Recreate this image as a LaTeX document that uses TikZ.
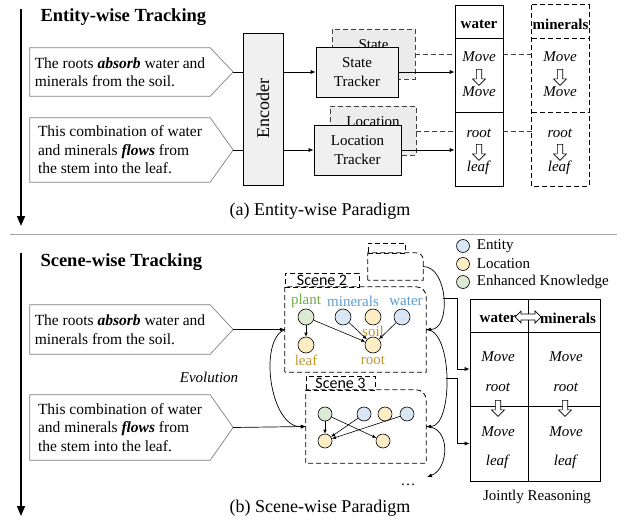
\documentclass[tikz,border=0pt]{standalone}
\usepackage{fontspec}
\setmainfont{Liberation Serif}
\newfontfamily\scenefont{Carlito}
\usetikzlibrary{arrows.meta, shapes.arrows, positioning, calc}

\definecolor{entblue}{HTML}{DAE6F3}
\definecolor{locyellow}{HTML}{FDEDC4}
\definecolor{knowgreen}{HTML}{DCEAD3}
\definecolor{txtgreen}{HTML}{70AD47}
\definecolor{txtblue}{HTML}{5B9BD5}
\definecolor{txtgold}{HTML}{C09A2E}

\begin{document}
\begin{tikzpicture}[x=1pt, y=-1pt,
    every node/.style={font=\fontsize{15}{18.5}\selectfont},
    arr/.style={-{Latex[length=5pt, width=4pt]}, line width=0.7pt},
    timeline/.style={-{Triangle[length=10pt, width=8pt]}, line width=1.5pt},
    dashes/.style={dash pattern=on 5pt off 3pt, line width=0.8pt},
    sentbox/.style={rectangle, align=left, minimum width=180, inner sep=0pt, font=\fontsize{15.5}{18.5}\selectfont},
    sentline/.style={draw=black!50, line width=0.7pt},
    procbox/.style={rectangle, draw, fill=gray!12, align=center, line width=0.7pt},
    ghostbox/.style={rectangle, draw=black!75, dashes, fill=gray!15, align=center},
    cell/.style={rectangle, draw, line width=0.7pt},
    blockdown/.style={single arrow, draw, fill=white, rotate=-90, minimum height=16, minimum width=13, single arrow head extend=3.5pt, inner sep=2.2pt, line width=0.6pt},
    scenetag/.style={rectangle, draw, dashes, inner sep=0pt, font=\scenefont\fontsize{16}{17}\selectfont},
    ent/.style={circle, draw, fill=entblue, minimum size=16, inner sep=0pt, line width=0.6pt},
    loc/.style={ent, fill=locyellow},
    know/.style={ent, fill=knowgreen},
    sarr/.style={-{Latex[length=4pt, width=3.5pt]}, line width=0.6pt},
]
\useasboundingbox (0,0) rectangle (628,521);

% (a) entity-wise
\coordinate (topstart) at (21,9);
\coordinate (topend) at (21,226);
\draw[timeline] (topstart) -- (topend);
\node[anchor=west, font=\fontsize{18.5}{20}\selectfont\bfseries] (title1) at (37,17) {Entity-wise Tracking};

\node[sentbox, minimum height=48] (t1) at (120,72) {The roots \textbf{\textit{absorb}} water and\\minerals from the soil.};
\draw[sentline] (t1.north west) -- (t1.north east) -- ($(t1.east)+(23,0)$) coordinate (t1tip) -- (t1.south east) -- (t1.south west) -- cycle;
\node[sentbox, minimum height=64] (t2) at (120,150) {This combination of water\\and minerals \textbf{\textit{flows}} from\\the stem into the leaf.};
\draw[sentline] (t2.north west) -- (t2.north east) -- ($(t2.east)+(23,0)$) coordinate (t2tip) -- (t2.south east) -- (t2.south west) -- cycle;

\node[procbox, minimum width=40, minimum height=152] (enc) at (263,109) {};
\node[rotate=90, font=\fontsize{18}{20}\selectfont] (enctext) at (enc.center) {Encoder};

\node[ghostbox, minimum width=83, minimum height=50] (stb) at (373.5,54) {State\\Tracker};
\node[procbox, minimum width=82, minimum height=50] (st) at (357,72) {State\\Tracker};
\node[ghostbox, minimum width=86, minimum height=49] (ltb) at (373,131) {Location\\Tracker};
\node[procbox, minimum width=87, minimum height=50] (lt) at (357.5,150) {Location\\Tracker};

% water column
\node[cell, minimum width=48, minimum height=33] (wh) at (479,21.5) {};
\node[cell, minimum width=48, minimum height=74] (wr1) at (479,75) {};
\node[cell, minimum width=48, minimum height=74] (wr2) at (479,149) {};
\node (whtxt) at (479,24) {\textbf{water}};
\node (wm1) at (479,57) {\textit{Move}};
\node[blockdown] (wa1) at (479,76) {};
\node (wm2) at (479,92) {\textit{Move}};
\node (wl1) at (479,133) {\textit{root}};
\node[blockdown] (wa2) at (479,151) {};
\node (wl2) at (479,168) {\textit{leaf}};

% minerals column
\node[minimum width=57, minimum height=33] (mh) at (560.5,21.5) {};
\node[minimum width=57, minimum height=74] (mr1) at (560.5,75) {};
\node[minimum width=57, minimum height=74] (mr2) at (560.5,149) {};
\draw[dashes] (mh.north west) rectangle (mr2.south east);
\draw[dashes] (mh.south west) -- (mh.south east);
\draw[dashes] (mr1.south west) -- (mr1.south east);
\node (mhtxt) at (560.5,24) {\textbf{minerals}};
\node (mm1) at (560,57) {\textit{Move}};
\node[blockdown] (ma1) at (560,76) {};
\node (mm2) at (560,92) {\textit{Move}};
\node (ml1) at (560,133) {\textit{root}};
\node[blockdown] (ma2) at (560,151) {};
\node (ml2) at (560,168) {\textit{leaf}};

\draw[line width=0.7pt] (t1tip) -- (t1tip -| enc.west);
\draw[line width=0.7pt] (t2tip) -- (t2tip -| enc.west);
\draw[arr] (st.west -| enc.east) -- (st.west);
\draw[arr] (lt.west -| enc.east) -- (lt.west);
\draw[arr] (st.east) -- (st.east -| wr1.west);
\draw[arr] (lt.east) -- (lt.east -| wr2.west);
\draw[dashes, draw=black!75] (stb.east) -- (stb.east -| wr1.west);
\draw[dashes, draw=black!75] (ltb.east) -- (ltb.east -| wr2.west);
\draw[dashes, draw=black!75] (wr1.east |- stb.east) -- (mr1.west |- stb.east);
\draw[dashes, draw=black!75] (wr2.east |- ltb.east) -- (mr2.west |- ltb.east);

\node[font=\fontsize{18}{20}\selectfont] (capa) at (320,211) {(a) Entity-wise Paradigm};

\coordinate (sepl) at (10,234);
\coordinate (sepr) at (617,234);
\draw[black!35, line width=1pt] (sepl) -- (sepr);

% (b) scene-wise
\coordinate (botstart) at (21,253);
\coordinate (botend) at (21,516);
\draw[timeline] (botstart) -- (botend);
\node[anchor=west, font=\fontsize{18.5}{20}\selectfont\bfseries] (title2) at (37,262) {Scene-wise Tracking};

\node[sentbox, minimum height=49] (tb1) at (120,329.5) {The roots \textbf{\textit{absorb}} water and\\minerals from the soil.};
\draw[sentline] (tb1.north west) -- (tb1.north east) -- ($(tb1.east)+(23,0)$) coordinate (tb1tip) -- (tb1.south east) -- (tb1.south west) -- cycle;
\node[sentbox, minimum height=65] (tb2) at (120,427.5) {This combination of water\\and minerals \textbf{\textit{flows}} from\\the stem into the leaf.};
\draw[sentline] (tb2.north west) -- (tb2.north east) -- ($(tb2.east)+(23,0)$) coordinate (tb2tip) -- (tb2.south east) -- (tb2.south west) -- cycle;
\node[font=\fontsize{15}{18}\selectfont\itshape] (evo) at (209,377) {Evolution};

% scenes
\node[scenetag, minimum width=37, minimum height=10] (sc1l) at (386.5,248) {};
\node[minimum width=55, minimum height=27] (sc1) at (395.5,266.5) {};
\draw[dashes] (sc1.south west) -- (sc1.north west) -- ([xshift=-7pt]sc1.north east) arc[start angle=90, end angle=0, radius=7pt] -- (sc1.south east) -- cycle;

\node[scenetag, minimum width=74, minimum height=14] (sc2l) at (322,280) {Scene 2};
\node[minimum width=141, minimum height=85] (sc2) at (355.5,329.5) {};
\draw[dashes] (sc2.south west) -- (sc2.north west) -- ([xshift=-10pt]sc2.north east) arc[start angle=90, end angle=0, radius=10pt] -- (sc2.south east) -- cycle;

\node[scenetag, minimum width=69, minimum height=14] (sc3l) at (340.5,383) {Scene 3};
\node[minimum width=120, minimum height=73] (sc3) at (366,426.5) {};
\draw[dashes] (sc3.south west) -- (sc3.north west) -- ([xshift=-10pt]sc3.north east) arc[start angle=90, end angle=0, radius=10pt] -- (sc3.south east) -- cycle;

% scene 2 graph
\node[know] (plant) at (306,317) {};
\node[ent] (min2) at (343,317) {};
\node[loc] (soil) at (373,317) {};
\node[ent] (wat2) at (402,317) {};
\node[loc] (leaf) at (306,345) {};
\node[loc] (root) at (373,345) {};
\node[text=txtgreen] (plantlbl) at (306,301) {plant};
\node[text=txtblue] (minlbl) at (353,301) {minerals};
\node[text=txtblue] (watlbl) at (406,301) {water};
\node[text=txtgold] (soillbl) at (373,331) {soil};
\node[text=txtgold] (leaflbl) at (306,360) {leaf};
\node[text=txtgold] (rootlbl) at (373,360) {root};
\draw[sarr] (plant) -- (leaf);
\draw[sarr] (plant) -- (root);
\draw[sarr] (min2) -- (root);
\draw[sarr] (wat2) -- (root);

% scene 3 graph
\node[know, minimum size=14] (g3) at (325,414) {};
\node[ent, minimum size=14] (b3a) at (364,414) {};
\node[loc, minimum size=14] (y3a) at (385,414) {};
\node[ent, minimum size=14] (b3b) at (407,414) {};
\node[loc, minimum size=14] (y3b) at (325,441) {};
\node[loc, minimum size=14] (y3c) at (383,441) {};
\draw[sarr] (g3) -- (y3b);
\draw[sarr] (g3) -- (y3c);
\draw[sarr] (b3a) -- (y3b);
\draw[sarr] (b3b) -- (y3b);

\draw[arr] (tb1tip) -- (sc2.west);
\draw[arr] (tb2tip) -- (sc3.west);
\draw[arr] (sc2.west) .. controls (258,340) and (270,428) .. (sc3.west);

\coordinate (moreend) at (427,477);
\node (more) at (408,485) {\dots};
\draw[arr] (sc1.east) .. controls +(25,0) and +(25,0) .. (sc2.east) coordinate[pos=0.5] (c1mid);
\draw[arr] (sc2.east) .. controls +(27,0) and +(27,0) .. (sc3.east) coordinate[pos=0.5] (c2mid);
\draw[arr] (sc3.east) .. controls +(25,0) and +(22,-8) .. (moreend);

% legend
\node[ent, minimum size=13] (lgent) at (463,246) {};
\node[loc, minimum size=13] (lgloc) at (463,264) {};
\node[know, minimum size=13] (lgknow) at (463,282) {};
\node[right=3.5pt of lgent] (lgenttxt) {Entity};
\node[right=3.5pt of lgloc] (lgloctxt) {Location};
\node[right=3.5pt of lgknow] (lgknowtxt) {Enhanced Knowledge};

% joint table
\node[cell, minimum width=58, minimum height=33] (th1) at (499,315.5) {};
\node[cell, minimum width=72, minimum height=33] (th2) at (564,315.5) {};
\node[cell, minimum width=58, minimum height=74] (tr11) at (499,369) {};
\node[cell, minimum width=72, minimum height=74] (tr12) at (564,369) {};
\node[cell, minimum width=58, minimum height=75] (tr21) at (499,443.5) {};
\node[cell, minimum width=72, minimum height=75] (tr22) at (564,443.5) {};
\node (thw) at (498,318) {\textbf{water}};
\node (thm) at (568,318) {\textbf{minerals}};
\node[double arrow, draw=black, fill=white, minimum height=26, minimum width=12, double arrow head extend=2.5pt, inner sep=2pt, line width=0.7pt] (link) at (528,317) {};
\node (j11) at (498,357) {\textit{Move}};
\node (j12) at (498,387) {\textit{root}};
\node (j13) at (498,432) {\textit{Move}};
\node (j14) at (498,462) {\textit{leaf}};
\node (j21) at (566,357) {\textit{Move}};
\node (j22) at (566,387) {\textit{root}};
\node (j23) at (566,432) {\textit{Move}};
\node (j24) at (566,462) {\textit{leaf}};
\node[blockdown] (ja1) at (498,407) {};
\node[blockdown] (ja2) at (565,407) {};
\node (joint) at (537,497) {Jointly Reasoning};

\coordinate (bus) at (457,300);
\draw[arr] (c1mid) -- (c1mid -| bus) |- (tr11.west);
\draw[arr] (c2mid) -- (c2mid -| bus) |- (tr21.west);

\node[font=\fontsize{18}{20}\selectfont] (capb) at (320,508) {(b) Scene-wise Paradigm};
\end{tikzpicture}
\end{document}
